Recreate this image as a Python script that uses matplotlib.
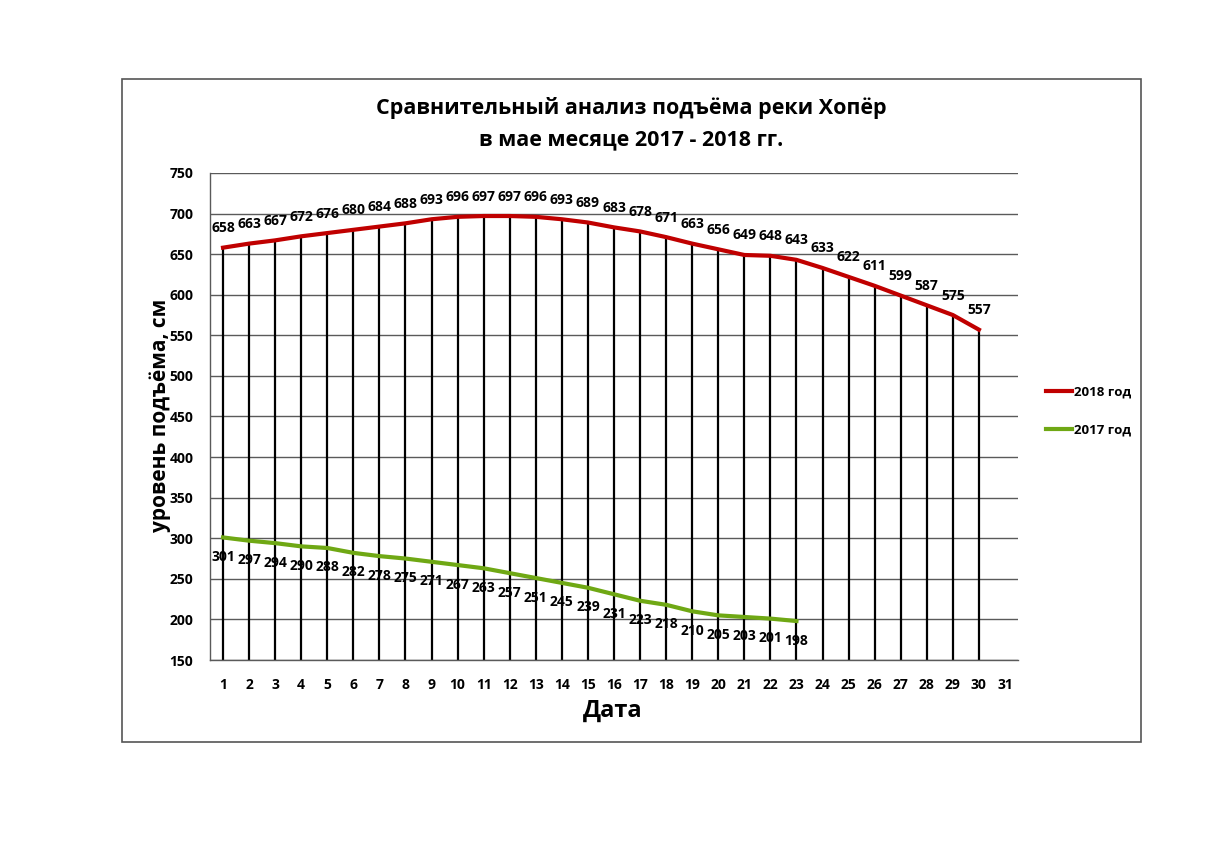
import numpy as np
import matplotlib.pyplot as plt
from matplotlib.patches import Rectangle

plt.rcParams['font.family'] = ['Open Sans', 'DejaVu Sans']

days = list(range(1, 32))
days_2018 = list(range(1, 31))
level_2018 = [658, 663, 667, 672, 676, 680, 684, 688, 693, 696, 697, 697, 696, 693, 689,
              683, 678, 671, 663, 656, 649, 648, 643, 633, 622, 611, 599, 587, 575, 557]
days_2017 = list(range(1, 24))
level_2017 = [301, 297, 294, 290, 288, 282, 278, 275, 271, 267, 263, 257, 251, 245, 239,
              231, 223, 218, 210, 205, 203, 201, 198]

red = '#C00000'
green = '#6FA814'

fig = plt.figure(figsize=(12.31, 8.48), dpi=100)
fig.patch.set_facecolor('white')

# outer frame
fig.add_artist(Rectangle((122/1231, 1-742/848), 1019/1231, 663/848, transform=fig.transFigure,
                         fill=False, edgecolor='#555555', linewidth=1.2))

ax = fig.add_axes([210/1231, 1-660/848, 808/1231, 487/848])
ax.set_xlim(0.5, 31.5)
ax.set_ylim(150, 750)
ax.set_yticks(np.arange(150, 751, 50))
ax.set_xticks(days)
ax.grid(axis='y', color='#5a5a5a', linewidth=1.0)
ax.set_axisbelow(True)
for s in ['top', 'right']:
    ax.spines[s].set_visible(False)
for s in ['left', 'bottom']:
    ax.spines[s].set_color('#5a5a5a')
    ax.spines[s].set_linewidth(1.0)
ax.tick_params(length=0, labelsize=10)
ax.tick_params(axis='x', pad=13)
ax.tick_params(axis='y', pad=12)
for lab in ax.get_xticklabels() + ax.get_yticklabels():
    lab.set_fontweight('bold')

# drop lines
ax.vlines(days_2018, 150, level_2018, color='black', linewidth=1.6, zorder=2)

l18, = ax.plot(days_2018, level_2018, color=red, linewidth=3, label='2018 год', zorder=3)
l17, = ax.plot(days_2017, level_2017, color=green, linewidth=3, label='2017 год', zorder=3)

for x, y in zip(days_2018, level_2018):
    ax.annotate(str(y), (x, y), xytext=(0, 9), textcoords='offset points',
                ha='center', va='bottom', fontsize=10, fontweight='bold')
for x, y in zip(days_2017, level_2017):
    ax.annotate(str(y), (x, y), xytext=(0, -9), textcoords='offset points',
                ha='center', va='top', fontsize=10, fontweight='bold')

fig.text(631/1231, 1-108/848, 'Сравнительный анализ подъёма реки Хопёр', ha='center', va='center',
         fontsize=15.5, fontweight='bold')
fig.text(631/1231, 1-140/848, 'в мае месяце 2017 - 2018 гг.', ha='center', va='center',
         fontsize=15.5, fontweight='bold')
fig.text(160/1231, 1-415/848, 'уровень подъёма, см', rotation=90, ha='center', va='center',
         fontsize=15, fontweight='bold')
fig.text(613/1231, 1-711/848, 'Дата', ha='center', va='center', fontsize=17, fontweight='bold')

fig.legend(handles=[l18, l17], loc='center left', bbox_to_anchor=(1034/1231, 1-411/848),
           frameon=False, prop={'size': 9.5, 'weight': 'bold'}, handlelength=2.0,
           handletextpad=0.1, labelspacing=1.9)

fig.savefig('out.png', dpi=100, facecolor='white')
